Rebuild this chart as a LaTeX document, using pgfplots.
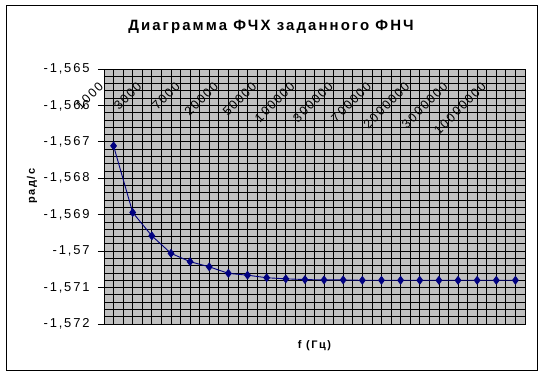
\documentclass[border=0pt]{standalone}
\usepackage{fontspec}
\setmainfont{Liberation Sans}[LetterSpace=14]
\usepackage{pgfplots}
\pgfplotsset{compat=1.18}
\definecolor{plotgray}{RGB}{192,192,192}
\definecolor{navyline}{RGB}{0,0,128}
\begin{document}
\begin{tikzpicture}
\useasboundingbox (-104bp,-50bp) rectangle (439bp,324bp);
\draw[black, line width=0.8bp] (-98bp,-46bp) rectangle (433bp,319bp);
\node[font=\fontsize{15}{18}\selectfont\bfseries] at (167bp,297bp) {Диаграмма ФЧХ заданного ФНЧ};
\begin{axis}[
  at={(0,0)}, anchor=south west,
  scale only axis, width=421bp, height=255bp,
  xmin=0.5, xmax=22.5,
  ymin=-1.572, ymax=-1.565,
  ytick={-1.572,-1.571,-1.570,-1.569,-1.568,-1.567,-1.566,-1.565},
  minor y tick num=4,
  xtick={1,3,5,7,9,11,13,15,17,19,21},
  xticklabels={1000,3000,7000,20000,50000,100000,300000,700000,2000000,3000000,10000000},
  minor xtick={0.5,1,...,22.5},
  xmajorgrids=false, xminorgrids=true,
  ymajorgrids=true, yminorgrids=true,
  grid style={black, line width=0.75bp},
  minor grid style={black, line width=0.75bp},
  axis background/.style={fill=plotgray},
  axis line style={black, line width=0.8bp},
  tick align=outside,
  major tick length=6bp, minor tick length=0pt,
  ytick pos=left,
  xtick style={draw=none},
  ytick style={black, line width=0.8bp},
  xticklabel pos=upper,
  xticklabel style={font=\fontsize{12.5}{14}\selectfont, xshift=-10bp, yshift=-19bp, rotate=45, anchor=east},
  yticklabel style={font=\fontsize{13}{15}\selectfont, xshift=-5bp},
  /pgf/number format/assume math mode=true,
  /pgf/number format/use comma,
  /pgf/number format/1000 sep={},
  /pgf/number format/precision=3,
  scaled y ticks=false,
  xlabel={f (Гц)},
  xlabel style={font=\fontsize{11}{13}\selectfont\bfseries, at={(axis description cs:0.5,-0.086)}, anchor=center},
  ylabel={рад/с},
  ylabel style={font=\fontsize{11}{13}\selectfont\bfseries, at={(axis description cs:-0.171,0.54)}, anchor=center},
]
\addplot[navyline, line width=0.9bp, mark=diamond*, mark size=3.8bp, mark options={fill=navyline, draw=navyline}] coordinates {
(1,-1.56711) (2,-1.56894) (3,-1.56958) (4,-1.57006) (5,-1.57029) (6,-1.57043)
(7,-1.57061) (8,-1.57066) (9,-1.57073) (10,-1.57076) (11,-1.57078) (12,-1.57079)
(13,-1.57079) (14,-1.5708) (15,-1.5708) (16,-1.5708) (17,-1.5708) (18,-1.5708)
(19,-1.5708) (20,-1.5708) (21,-1.5708) (22,-1.5708)
};
\end{axis}
\end{tikzpicture}
\end{document}
